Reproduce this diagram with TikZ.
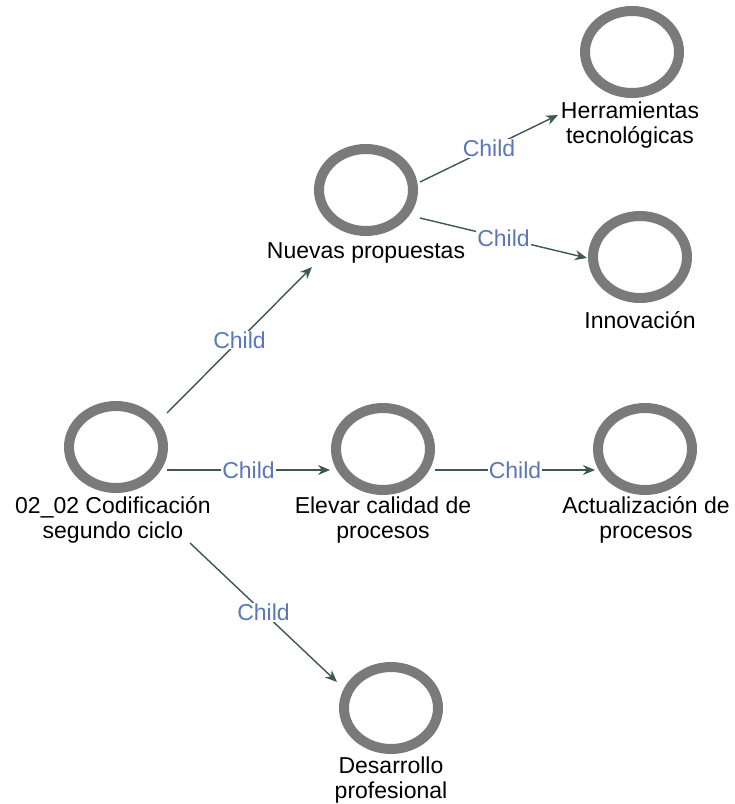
\documentclass[tikz,border=0pt]{standalone}
\usepackage{fontspec}
\setmainfont{Liberation Sans}
\usetikzlibrary{shapes.geometric,arrows.meta,calc}
\definecolor{ringgray}{HTML}{7A7A7A}
\definecolor{edgecol}{HTML}{3E5752}
\definecolor{childblue}{HTML}{5A78B8}
\begin{document}
\begin{tikzpicture}[x=1pt,y=-1pt,
  ring/.style={ellipse,draw=ringgray,line width=10pt,minimum width=94pt,minimum height=82pt,inner sep=0pt},
  lbl/.style={align=center,font=\fontsize{23}{25}\selectfont,text=black,inner sep=0pt},
  rel/.style={draw=edgecol,line width=1.4pt,-{Stealth[length=12pt,width=10pt]}},
  childlbl/.style={fill=white,text=childblue,font=\fontsize{23}{25}\selectfont,inner sep=1pt,pos=0.5}]
\useasboundingbox (0,0) rectangle (735,804);
% vertices
\node[ring] (cod) at (116,447) {};
\node[lbl] (codL) at (113,520) {02\_02 Codificación\\segundo ciclo};
\node[ring] (nuev) at (366,190) {};
\node[lbl] (nuevL) at (366,253) {Nuevas propuestas};
\node[ring] (herr) at (632,52) {};
\node[lbl] (herrL) at (630,125) {Herramientas\\tecnológicas};
\node[ring] (innov) at (640,257) {};
\node[lbl] (innovL) at (640,320) {Innovación};
\node[ring] (elev) at (383,449) {};
\node[lbl] (elevL) at (383,520) {Elevar calidad de\\procesos};
\node[ring] (act) at (645,449) {};
\node[lbl] (actL) at (646,520) {Actualización de\\procesos};
\node[ring] (des) at (391,708) {};
\node[lbl] (desL) at (391,780) {Desarrollo\\profesional};
% connectors
\draw[rel] ($(cod)+(51,-34)$) -- node[childlbl]{Child} ($(nuevL)+(-54,14)$);
\draw[rel] ($(cod)+(51,23)$) -- node[childlbl]{Child} ($(elev)+(-53,21)$);
\draw[rel] ($(elev)+(52,21)$) -- node[childlbl]{Child} ($(act)+(-50,21)$);
\draw[rel] ($(codL)+(77,23)$) -- node[childlbl]{Child} ($(des)+(-54,-26)$);
\draw[rel] ($(nuev)+(54,-8)$) -- node[childlbl]{Child} ($(herrL)+(-72,-10)$);
\draw[rel] ($(nuev)+(54,28)$) -- node[childlbl]{Child} ($(innov)+(-53,1)$);
\end{tikzpicture}
\end{document}
